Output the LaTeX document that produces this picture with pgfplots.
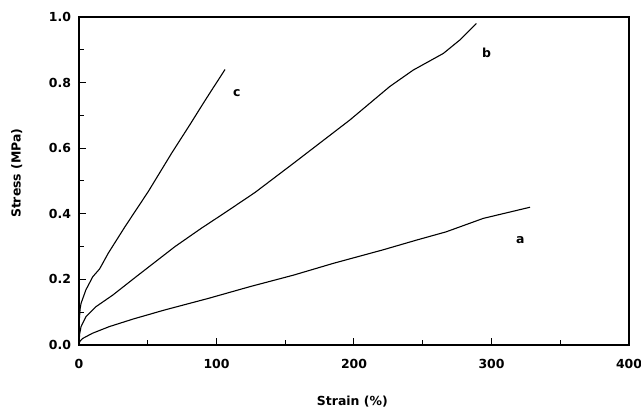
\documentclass[border=0pt]{standalone}
\usepackage{fontspec}
\setmainfont{DejaVu Sans}
\usepackage{pgfplots}
\pgfplotsset{compat=1.18}
\begin{document}
\begin{tikzpicture}
\begin{axis}[
    scale only axis,
    width=550bp, height=328bp,
    xmin=0, xmax=400, ymin=0, ymax=1.0,
    xtick={0,100,200,300,400},
    ytick={0,0.2,0.4,0.6,0.8,1.0},
    minor x tick num=1, minor y tick num=1,
    tick align=inside,
    xtick pos=bottom, ytick pos=left,
    major tick length=7bp, minor tick length=5bp,
    axis line style={line width=1.1bp},
    every tick/.style={line width=1bp, black},
    font=\fontsize{12.5}{15}\selectfont\bfseries,
    /pgf/number format/assume math mode=true,
    yticklabel style={/pgf/number format/fixed, /pgf/number format/fixed zerofill, /pgf/number format/precision=1, xshift=-4.5bp},
    xticklabel style={yshift=-11bp},
    xlabel={Strain (\%)},
    ylabel={Stress (MPa)},
    xlabel style={at={(axis description cs:0.497,-0.174)}, anchor=center},
    ylabel style={at={(axis description cs:-0.113,0.524)}, anchor=center},
]
% curve a
\addplot[black, line width=1.1bp] coordinates {
(0,0.005) (0.8,0.012) (2.7,0.02) (9.9,0.036) (22,0.056) (40,0.08) (62.5,0.107)
(94,0.142) (124.4,0.178) (156,0.213) (185,0.249) (221,0.29) (245.6,0.32)
(267,0.345) (294,0.386) (328,0.42)};
% curve b
\addplot[black, line width=1.1bp] coordinates {
(0,0.005) (0.5,0.035) (1.5,0.056) (5,0.086) (12.4,0.117) (24.5,0.152) (41.5,0.208)
(69.8,0.30) (89,0.356) (106,0.403) (128,0.465) (156,0.554) (197,0.686)
(226,0.788) (243,0.838) (265,0.889) (277,0.93) (289,0.98)};
% curve c
\addplot[black, line width=1.1bp] coordinates {
(0,0.005) (0.3,0.08) (0.8,0.11) (1.5,0.127) (5,0.168) (10,0.208) (15,0.232)
(21.3,0.28) (33.5,0.361) (50.4,0.468) (67.4,0.585) (80.7,0.672) (90.4,0.737)
(96.5,0.777) (101.3,0.808) (106.2,0.84)};
\node at (axis cs:114.7,0.767) {c};
\node at (axis cs:296.5,0.891) {b};
\node at (axis cs:321,0.32) {a};
\end{axis}
% margins as in the reference
\pgfresetboundingbox
\path[use as bounding box] (-79bp,-65bp) rectangle (562bp,345bp);
\end{tikzpicture}
\end{document}
